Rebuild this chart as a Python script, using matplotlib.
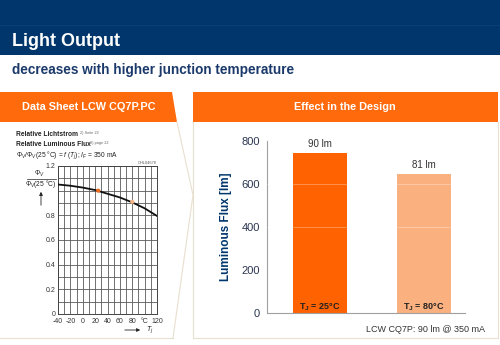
import matplotlib
matplotlib.use('Agg')
from matplotlib import pyplot as plt
from matplotlib.patches import Polygon, Rectangle, FancyArrow

plt.rcParams['font.family'] = ['Liberation Sans', 'DejaVu Sans']
plt.rcParams['mathtext.fontset'] = 'custom'
plt.rcParams['mathtext.rm'] = 'Liberation Sans'
plt.rcParams['mathtext.it'] = 'Liberation Sans:italic'
plt.rcParams['mathtext.bf'] = 'Liberation Sans:bold'

# Данные: кривая из даташита
temps = [-40, -20, 0, 20, 40, 60, 80, 100, 120]
rel_flux = [1.05, 1.04, 1.025, 1.005, 0.975, 0.945, 0.905, 0.857, 0.795]
mark_temps = [25, 80]
mark_flux = [1.0, 0.91]
x_ticks = [-40, -20, 0, 20, 40, 60, 80, 100, 120]
x_tick_labels = ['-40', '-20', '0', '20', '40', '60', '80', '°C', '120']
y_ticks = [0, 0.2, 0.4, 0.6, 0.8, 1.2]

# Данные: столбцы
bar_labels = ['$\\mathbf{T_J}$ = 25°C', '$\\mathbf{T_J}$ = 80°C']
bar_values = [745, 645]
bar_texts = ['90 lm', '81 lm']
bar_colors = ['#FF6200', '#FBB07F']

NAVY = '#00366B'
ORANGE = '#FF6A0D'
BORDER = '#E9DFCF'

fig = plt.figure(figsize=(5, 3.45), dpi=100)
fig.patch.set_facecolor('white')

# Фон в пиксельных координатах
bg = fig.add_axes([0, 0, 1, 1])
bg.set_xlim(0, 500)
bg.set_ylim(345, 0)
bg.axis('off')

bg.add_patch(Rectangle((0, 0), 500, 55, color=NAVY, lw=0))
bg.plot([0, 500], [25, 25], color='#0A4278', lw=0.6)
bg.text(12, 41, 'Light Output', color='white', fontsize=13, fontweight='bold', va='center')
bg.text(12, 70, 'decreases with higher junction temperature', color='#1B3A6B',
        fontsize=9.8, fontweight='bold', va='center')

# Заголовки панелей
bg.add_patch(Polygon([(0, 92), (172, 92), (177, 122), (0, 122)], color=ORANGE, lw=0))
bg.add_patch(Rectangle((193, 92), 305, 30, color=ORANGE, lw=0))
bg.text(89, 107, 'Data Sheet LCW CQ7P.PC', color='white', fontsize=7.8, fontweight='bold',
        ha='center', va='center')
bg.text(345, 107, 'Effect in the Design', color='white', fontsize=7.8, fontweight='bold',
        ha='center', va='center')

# Рамки панелей
bg.plot([177, 193, 173], [122, 195, 338], color=BORDER, lw=0.8)
bg.plot([0, 173], [338, 338], color=BORDER, lw=0.8)
bg.plot([193, 193, 498, 498], [122, 338, 338, 122], color=BORDER, lw=0.8)

# Подписи даташита
bg.text(16, 135, 'Relative Lichtstrom', fontsize=4.8, fontweight='bold', va='center', color='#222')
bg.text(80, 133, '2) Seite 22', fontsize=2.8, va='center', color='#666')
bg.text(16, 145, 'Relative Luminous Flux', fontsize=4.8, fontweight='bold', va='center', color='#222')
bg.text(90, 143, '2) page 22', fontsize=2.8, va='center', color='#666')
bg.text(16, 155, '$\\Phi_V/\\Phi_V$(25 °C) = $f$ ($T_j$); $I_F$ = 350 mA', fontsize=4.8,
        va='center', color='#222')
bg.text(157, 163.5, 'OHL04678', fontsize=2.8, ha='right', va='center', color='#555')
bg.text(39, 174, '$\\Phi_V$', fontsize=4.8, ha='center', va='center', color='#222')
bg.plot([27, 56], [179, 179], color='#222', lw=0.5)
bg.text(41, 184, '$\\Phi_V$(25 °C)', fontsize=4.8, ha='center', va='center', color='#222')
bg.annotate('', xy=(41, 189), xytext=(41, 208),
            arrowprops=dict(arrowstyle='-|>', color='#222', lw=0.6, mutation_scale=5))
bg.annotate('', xy=(143, 330), xytext=(122, 330),
            arrowprops=dict(arrowstyle='-|>', color='#222', lw=0.6, mutation_scale=5))
bg.text(146, 330, '$T_j$', fontsize=5, va='center', color='#222')

# Левый график
ax1 = fig.add_axes([58 / 500, 1 - 314 / 345, 99 / 500, 148 / 345])
ax1.plot(temps, rel_flux, color='#111', lw=1.3, zorder=3)
ax1.scatter(mark_temps, mark_flux, color=['#F26A1B', '#F8B585'], s=9, zorder=4, lw=0)
ax1.set_xlim(-40, 120)
ax1.set_ylim(0, 1.2)
ax1.set_xticks(range(-40, 121, 10), minor=True)
ax1.set_yticks([i / 10 for i in range(13)], minor=True)
ax1.set_xticks(x_ticks)
ax1.set_xticklabels(x_tick_labels)
ax1.set_yticks(y_ticks)
ax1.set_yticklabels(['0', '0.2', '0.4', '0.6', '0.8', '1.2'])
ax1.grid(True, which='both', color='#5a5a5a', lw=0.6)
ax1.tick_params(which='both', length=0, labelsize=5, colors='#333', pad=2)
ax1.tick_params(axis='x', pad=3)
for s in ax1.spines.values():
    s.set_color('#444')
    s.set_linewidth(0.7)

# Правый график
ax2 = fig.add_axes([267 / 500, 1 - 313 / 345, 198 / 500, 172 / 345])
bars = ax2.bar([0, 1], bar_values, width=0.52, color=bar_colors, zorder=2)
for y in [400, 600]:
    ax2.axhline(y, color='white', lw=0.6, alpha=0.35, zorder=3)
for i, (v, t) in enumerate(zip(bar_values, bar_texts)):
    ax2.text(i, v + 18, t, ha='center', va='bottom', fontsize=7, color='#333')
    ax2.text(i, 28, bar_labels[i], ha='center', va='center', fontsize=6.5,
             fontweight='bold', color='#222')
ax2.set_xlim(-0.51, 1.394)
ax2.set_ylim(0, 800)
ax2.set_yticks([0, 200, 400, 600, 800])
ax2.set_xticks([])
ax2.tick_params(axis='y', length=0, labelsize=8, colors='#2A3550', pad=5)
for side in ['top', 'right']:
    ax2.spines[side].set_visible(False)
for side in ['left', 'bottom']:
    ax2.spines[side].set_color('#A0A0A0')
    ax2.spines[side].set_linewidth(0.8)
ax2.set_ylabel('Luminous Flux [lm]', fontsize=8.5, fontweight='bold', color=NAVY, labelpad=7)

# Стрелка -10 %
bg.add_patch(FancyArrow(348, 148, 40, 17, width=8, head_width=17, head_length=12,
                        length_includes_head=False, color='#B4B4B4', lw=0, zorder=5))
bg.text(371, 150, '- 10 %', fontsize=7, color='#333', rotation=-25,
        ha='center', va='center', zorder=6)
bg.set_zorder(0)

bg.text(485, 330, 'LCW CQ7P: 90 lm @ 350 mA', fontsize=6.5, ha='right', va='center', color='#333')

fig.savefig('out.png', dpi=100)
